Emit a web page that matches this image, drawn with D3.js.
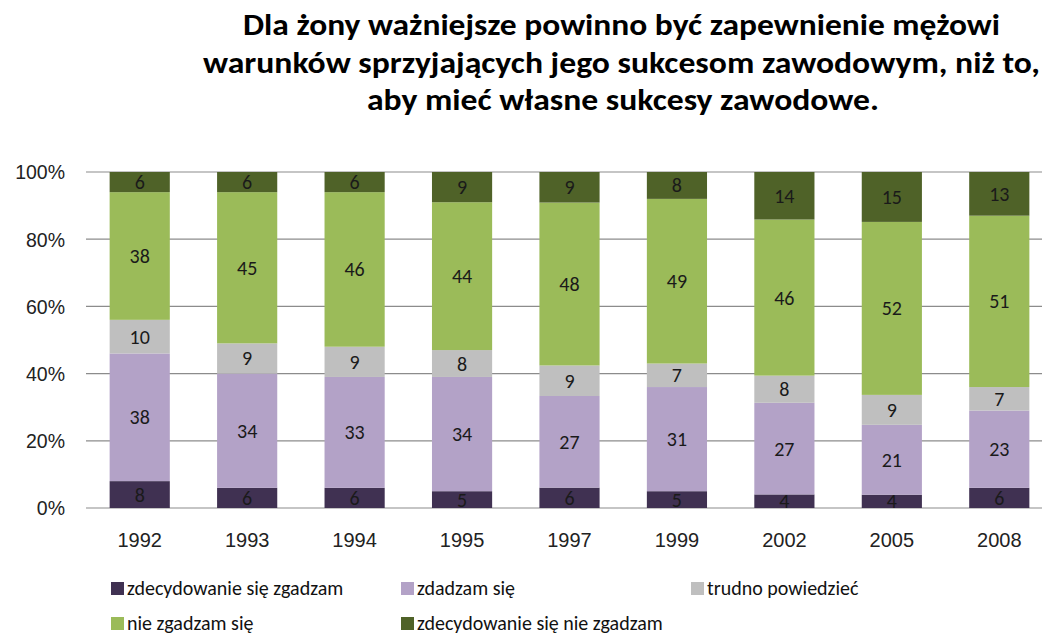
<!DOCTYPE html>
<html>
<head>
<meta charset="utf-8">
<script src="https://cdn.jsdelivr.net/npm/d3@7"></script>
<style>
  body { margin: 0; background: #fff; }
  svg { font-family: Calibri, Carlito, Lato, "Open Sans", sans-serif; }
</style>
</head>
<body>
<div id="chart"></div>
<script>
// data
var years = ["1992", "1993", "1994", "1995", "1997", "1999", "2002", "2005", "2008"];
var seriesNames = ["zdecydowanie się zgadzam", "zdadzam się", "trudno powiedzieć", "nie zgadzam się", "zdecydowanie się nie zgadzam"];
var stronglyAgree = [8, 6, 6, 5, 6, 5, 4, 4, 6];
var agree = [38, 34, 33, 34, 27, 31, 27, 21, 23];
var hardToSay = [10, 9, 9, 8, 9, 7, 8, 9, 7];
var disagree = [38, 45, 46, 44, 48, 49, 46, 52, 51];
var stronglyDisagree = [6, 6, 6, 9, 9, 8, 14, 15, 13];
var yTicks = [0, 0.2, 0.4, 0.6, 0.8, 1];
var colors = ["#403152", "#b3a2c7", "#bfbfbf", "#9bbb59", "#4f6228"];

var width = 1042, height = 638;
var svg = d3.select("#chart").append("svg")
    .attr("width", width)
    .attr("height", height);

// title (line spans)
var titleLines = ["Dla żony ważniejsze powinno być zapewnienie mężowi",
                  "warunków sprzyjających jego sukcesom zawodowym, niż to,",
                  "aby mieć własne sukcesy zawodowe."];
var titleSpan = [[243, 1000], [203, 1040], [367, 879]];
svg.append("g").selectAll("text")
    .data(titleLines)
    .enter().append("text")
    .attr("x", function(d, i) { return titleSpan[i][0]; })
    .attr("y", function(d, i) { return 35 + i * 37.5; })
    .attr("textLength", function(d, i) { return titleSpan[i][1] - titleSpan[i][0]; })
    .attr("lengthAdjust", "spacingAndGlyphs")
    .style("font-size", "30px")
    .style("font-weight", "bold")
    .style("fill", "#000")
    .text(function(d) { return d; });

// build rows, normalised to 100%
var keys = ["s0", "s1", "s2", "s3", "s4"];
var rows = years.map(function(y, i) {
    var vals = [stronglyAgree[i], agree[i], hardToSay[i], disagree[i], stronglyDisagree[i]];
    var total = d3.sum(vals);
    var r = { year: y };
    vals.forEach(function(v, j) { r[keys[j]] = v / total; r["raw" + j] = v; });
    return r;
});
var stacked = d3.stack().keys(keys)(rows);

var x = d3.scaleBand().domain(years).range([86, 1053]).paddingInner(0.44).paddingOuter(0.22);
var y = d3.scaleLinear().domain([0, 1]).range([508, 172]);

// gridlines
svg.append("g").selectAll("line")
    .data(yTicks)
    .enter().append("line")
    .attr("x1", 86).attr("x2", width)
    .attr("y1", function(d) { return y(d); })
    .attr("y2", function(d) { return y(d); })
    .style("stroke", "#8c8c8c")
    .style("stroke-width", 1.2);

// y axis labels
var yAxis = svg.append("g")
    .attr("transform", "translate(65,0)")
    .call(d3.axisLeft(y).tickValues(yTicks).tickFormat(d3.format(".0%")).tickSize(0).tickPadding(0));
yAxis.select(".domain").remove();
yAxis.selectAll("text").style("font-size", "19.5px").style("fill", "#222").attr("dy", "0.35em");

// x axis labels
var xAxis = svg.append("g")
    .attr("transform", "translate(0,540)")
    .call(d3.axisBottom(x).tickSize(0).tickPadding(0));
xAxis.select(".domain").remove();
xAxis.selectAll("text").style("font-size", "20px").style("fill", "#222").attr("dy", "0.35em");

// bars
var layer = svg.append("g").selectAll("g")
    .data(stacked)
    .enter().append("g")
    .style("fill", function(d, i) { return colors[i]; });

layer.selectAll("rect")
    .data(function(d) { return d; })
    .enter().append("rect")
    .attr("x", function(d) { return x(d.data.year); })
    .attr("width", x.bandwidth())
    .attr("y", function(d) { return y(d[1]); })
    .attr("height", function(d) { return y(d[0]) - y(d[1]); });

// data labels
stacked.forEach(function(s, j) {
    svg.append("g").selectAll("text")
        .data(s)
        .enter().append("text")
        .attr("x", function(d) { return x(d.data.year) + x.bandwidth() / 2; })
        .attr("y", function(d) { return (y(d[0]) + y(d[1])) / 2; })
        .attr("dy", "0.35em")
        .attr("text-anchor", "middle")
        .style("font-size", "20px")
        .style("fill", "#1a1a1a")
        .text(function(d) { return d.data["raw" + j]; });
});

// legend
var legendPos = [[111, 589], [401, 589], [691, 589], [111, 624], [401, 624]];
var legend = svg.append("g").selectAll("g")
    .data(seriesNames)
    .enter().append("g")
    .attr("transform", function(d, i) { return "translate(" + legendPos[i][0] + "," + legendPos[i][1] + ")"; });
legend.append("rect")
    .attr("x", 0).attr("y", -7)
    .attr("width", 13).attr("height", 13)
    .style("fill", function(d, i) { return colors[i]; });
legend.append("text")
    .attr("x", 16)
    .attr("dy", "0.3em")
    .style("font-size", "20px")
    .style("fill", "#111")
    .text(function(d) { return d; });
</script>
</body>
</html>
